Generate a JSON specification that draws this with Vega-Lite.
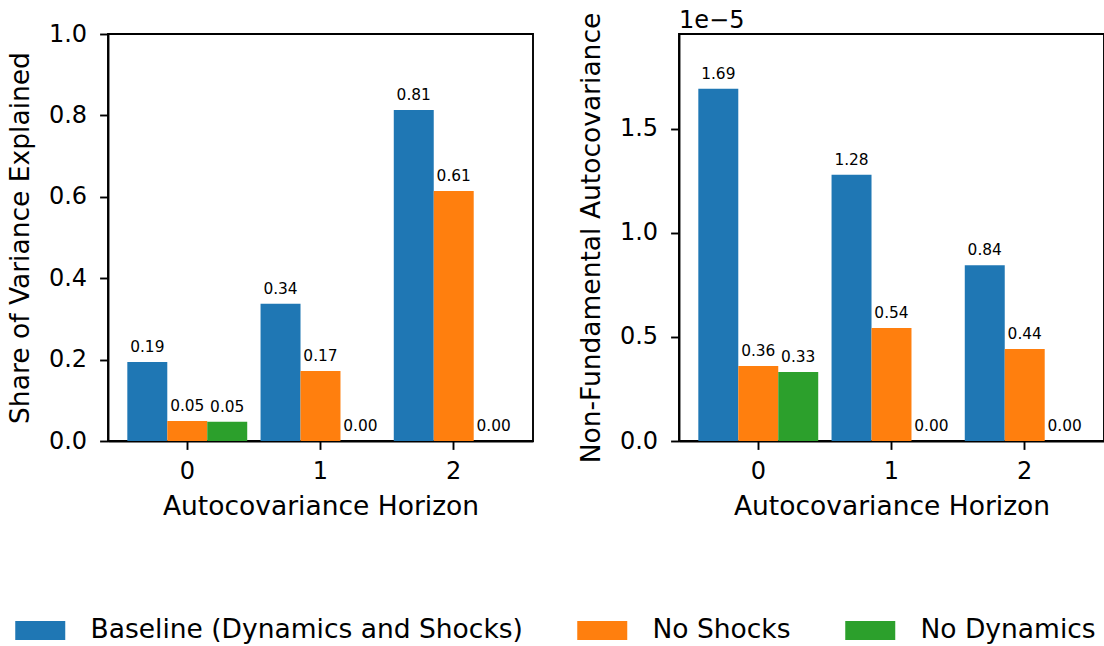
{
  "$schema": "https://vega.github.io/schema/vega-lite/v6.json",
  "padding": {"left": 6, "top": 8, "right": 0, "bottom": 0},
  "background": "white",
  "datasets": {
    "share": [
      {"horizon": "0", "series": "Baseline (Dynamics and Shocks)", "value": 0.194},
      {"horizon": "0", "series": "No Shocks", "value": 0.049},
      {"horizon": "0", "series": "No Dynamics", "value": 0.047},
      {"horizon": "1", "series": "Baseline (Dynamics and Shocks)", "value": 0.337},
      {"horizon": "1", "series": "No Shocks", "value": 0.172},
      {"horizon": "1", "series": "No Dynamics", "value": 0.0},
      {"horizon": "2", "series": "Baseline (Dynamics and Shocks)", "value": 0.813},
      {"horizon": "2", "series": "No Shocks", "value": 0.614},
      {"horizon": "2", "series": "No Dynamics", "value": 0.0}
    ],
    "autocov": [
      {"horizon": "0", "series": "Baseline (Dynamics and Shocks)", "value": 1.692},
      {"horizon": "0", "series": "No Shocks", "value": 0.36},
      {"horizon": "0", "series": "No Dynamics", "value": 0.331},
      {"horizon": "1", "series": "Baseline (Dynamics and Shocks)", "value": 1.279},
      {"horizon": "1", "series": "No Shocks", "value": 0.543},
      {"horizon": "1", "series": "No Dynamics", "value": 0.0},
      {"horizon": "2", "series": "Baseline (Dynamics and Shocks)", "value": 0.844},
      {"horizon": "2", "series": "No Shocks", "value": 0.442},
      {"horizon": "2", "series": "No Dynamics", "value": 0.0}
    ]
  },
  "config": {
    "font": "DejaVu Sans",
    "view": {"stroke": "black", "strokeWidth": 1.9},
    "axis": {
      "domainColor": "black", "domainWidth": 1.9,
      "tickColor": "black", "tickWidth": 1.9, "tickSize": 8.4,
      "labelFontSize": 24, "labelColor": "black", "labelPadding": 13,
      "titleFontSize": 26.5, "titleFontWeight": "normal", "titleColor": "black", "titlePadding": 13.6,
      "grid": false
    },
    "axisX": {"labelPadding": 10, "titlePadding": 9.6},
    "title": {"fontSize": 24, "fontWeight": "normal", "color": "black", "anchor": "start", "frame": "group", "offset": -21}
  },
  "spacing": 43,
  "hconcat": [
    {
      "width": 425, "height": 407,
      "data": {"name": "share"},
      "encoding": {
        "x": {"field": "horizon", "type": "nominal", "title": "Autocovariance Horizon",
              "scale": {"paddingInner": 0.1, "paddingOuter": 0.145},
              "axis": {"labelAngle": 0}},
        "xOffset": {"field": "series", "type": "nominal", "sort": ["Baseline (Dynamics and Shocks)", "No Shocks", "No Dynamics"],
                    "scale": {"paddingInner": 0, "paddingOuter": 0}},
        "y": {"field": "value", "type": "quantitative", "title": "Share of Variance Explained",
              "scale": {"domain": [0, 1], "nice": false},
              "axis": {"values": [0, 0.2, 0.4, 0.6, 0.8, 1.0], "format": ".1f"}}
      },
      "layer": [
        {"mark": {"type": "bar"},
         "encoding": {"color": {"field": "series", "type": "nominal",
            "sort": ["Baseline (Dynamics and Shocks)", "No Shocks", "No Dynamics"],
            "scale": {"domain": ["Baseline (Dynamics and Shocks)", "No Shocks", "No Dynamics"], "range": ["#1f77b4", "#ff7f0e", "#2ca02c"]},
            "legend": {"orient": "none", "direction": "horizontal", "legendX": -96, "legendY": 583,
                       "title": null, "labelFontSize": 26.5, "labelColor": "black", "labelLimit": 0,
                       "symbolType": "M-1,-0.95H4V0.95H-1Z", "symbolSize": 400, "symbolStrokeWidth": 0,
                       "labelOffset": 52, "columnPadding": 51}}}},
        {"mark": {"type": "text", "baseline": "bottom", "dy": -7, "fontSize": 15.4, "color": "black"},
         "encoding": {"text": {"field": "value", "type": "quantitative", "format": ".2f"}}}
      ]
    },
    {
      "width": 425, "height": 407,
      "title": {"text": "1e\u22125"},
      "data": {"name": "autocov"},
      "encoding": {
        "x": {"field": "horizon", "type": "nominal", "title": "Autocovariance Horizon",
              "scale": {"paddingInner": 0.1, "paddingOuter": 0.145},
              "axis": {"labelAngle": 0}},
        "xOffset": {"field": "series", "type": "nominal", "sort": ["Baseline (Dynamics and Shocks)", "No Shocks", "No Dynamics"],
                    "scale": {"paddingInner": 0, "paddingOuter": 0}},
        "y": {"field": "value", "type": "quantitative", "title": "Non-Fundamental Autocovariance",
              "scale": {"domain": [0, 1.955], "nice": false},
              "axis": {"values": [0, 0.5, 1.0, 1.5], "format": ".1f"}}
      },
      "layer": [
        {"mark": {"type": "bar"},
         "encoding": {"color": {"field": "series", "type": "nominal",
            "sort": ["Baseline (Dynamics and Shocks)", "No Shocks", "No Dynamics"]}}},
        {"mark": {"type": "text", "baseline": "bottom", "dy": -7, "fontSize": 15.4, "color": "black"},
         "encoding": {"text": {"field": "value", "type": "quantitative", "format": ".2f"}}}
      ]
    }
  ]
}
